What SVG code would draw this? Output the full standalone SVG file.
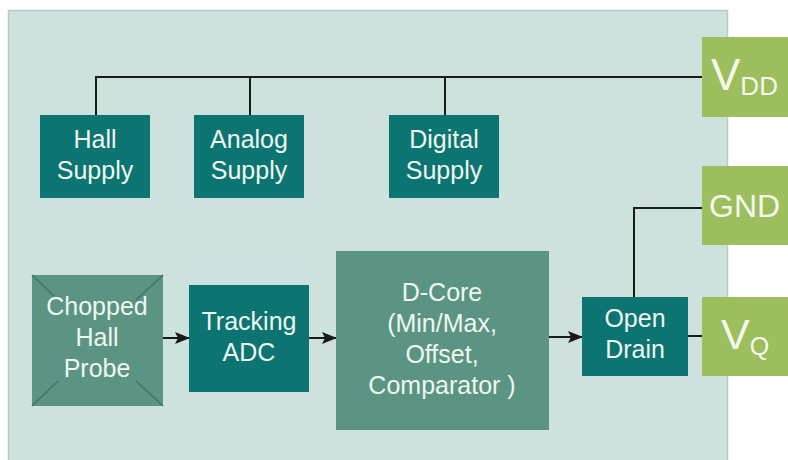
<svg xmlns="http://www.w3.org/2000/svg" width="788" height="460" viewBox="0 0 788 460">
<defs>
<style>
.t{font-family:"Liberation Sans",Arial,sans-serif;font-size:25px;fill:#eef7ef;text-anchor:middle}
.dark{fill:#0c7471}
.mid{fill:#5b9483}
.pin{fill:#9cbe5d}
.w{stroke:#1a1a1a;stroke-width:2;fill:none}
.pt{font-family:"Liberation Sans",Arial,sans-serif;fill:#f4f9ec}
</style>
<marker id="ah" markerWidth="15" markerHeight="12" refX="14" refY="6" orient="auto" markerUnits="userSpaceOnUse">
<path d="M0,0 L15,6 L0,12 L3,6 Z" fill="#1a1a1a"/>
</marker>
</defs>
<rect x="0" y="0" width="788" height="460" fill="#ffffff"/>
<rect id="panel" x="8.5" y="10.5" width="719" height="460" fill="#cde2dc" stroke="#b9cbc9" stroke-width="1.5"/>

<g id="connectors">
<polyline class="w" points="96,115 96,77 702,77"/>
<line class="w" x1="250" y1="77" x2="250" y2="115"/>
<line class="w" x1="445" y1="77" x2="445" y2="115"/>
<polyline class="w" points="634,297 634,208 702,208"/>
<line class="w" x1="688" y1="336" x2="702" y2="336"/>
<line class="w" x1="163" y1="338" x2="189" y2="338" marker-end="url(#ah)"/>
<line class="w" x1="309" y1="338" x2="336" y2="338" marker-end="url(#ah)"/>
<line class="w" x1="549" y1="337" x2="582" y2="337" marker-end="url(#ah)"/>
</g>

<g id="hall-supply">
<rect class="dark" x="40" y="115" width="110" height="83"/>
<text class="t" x="95" y="148">Hall</text>
<text class="t" x="95" y="179">Supply</text>
</g>
<g id="analog-supply">
<rect class="dark" x="194" y="115" width="110" height="83"/>
<text class="t" x="249" y="148">Analog</text>
<text class="t" x="249" y="179">Supply</text>
</g>
<g id="digital-supply">
<rect class="dark" x="389" y="115" width="110" height="83"/>
<text class="t" x="444" y="148">Digital</text>
<text class="t" x="444" y="179">Supply</text>
</g>

<g id="chopped-hall-probe">
<rect class="mid" x="32" y="275" width="131" height="131"/>
<g stroke="#3d7565" stroke-width="1.5">
<line x1="32" y1="275" x2="54" y2="296"/>
<line x1="163" y1="275" x2="136" y2="300"/>
<line x1="32" y1="406" x2="58" y2="381"/>
<line x1="163" y1="406" x2="136" y2="381"/>
</g>
<text class="t" x="97" y="315">Chopped</text>
<text class="t" x="97" y="346">Hall</text>
<text class="t" x="97" y="377">Probe</text>
</g>

<g id="tracking-adc">
<rect class="dark" x="189" y="285" width="120" height="107"/>
<text class="t" x="249" y="330">Tracking</text>
<text class="t" x="249" y="361">ADC</text>
</g>

<g id="d-core">
<rect class="mid" x="336" y="251" width="213" height="179"/>
<text class="t" x="442" y="301">D-Core</text>
<text class="t" x="442" y="332">(Min/Max,</text>
<text class="t" x="442" y="363">Offset,</text>
<text class="t" x="442" y="394">Comparator )</text>
</g>

<g id="open-drain">
<rect class="dark" x="582" y="297" width="106" height="79"/>
<text class="t" x="635" y="327">Open</text>
<text class="t" x="635" y="358">Drain</text>
</g>

<g id="vdd">
<rect class="pin" x="702" y="37" width="86" height="80"/>
<text class="pt" x="711" y="90" font-size="44">V<tspan font-size="26" dy="5">DD</tspan></text>
</g>
<g id="gnd">
<rect class="pin" x="702" y="166" width="86" height="79"/>
<text class="pt" x="709" y="217" font-size="32">GND</text>
</g>
<g id="vq">
<rect class="pin" x="702" y="297" width="86" height="79"/>
<text class="pt" x="721" y="349" font-size="43">V<tspan font-size="25" dy="6">Q</tspan></text>
</g>
</svg>
